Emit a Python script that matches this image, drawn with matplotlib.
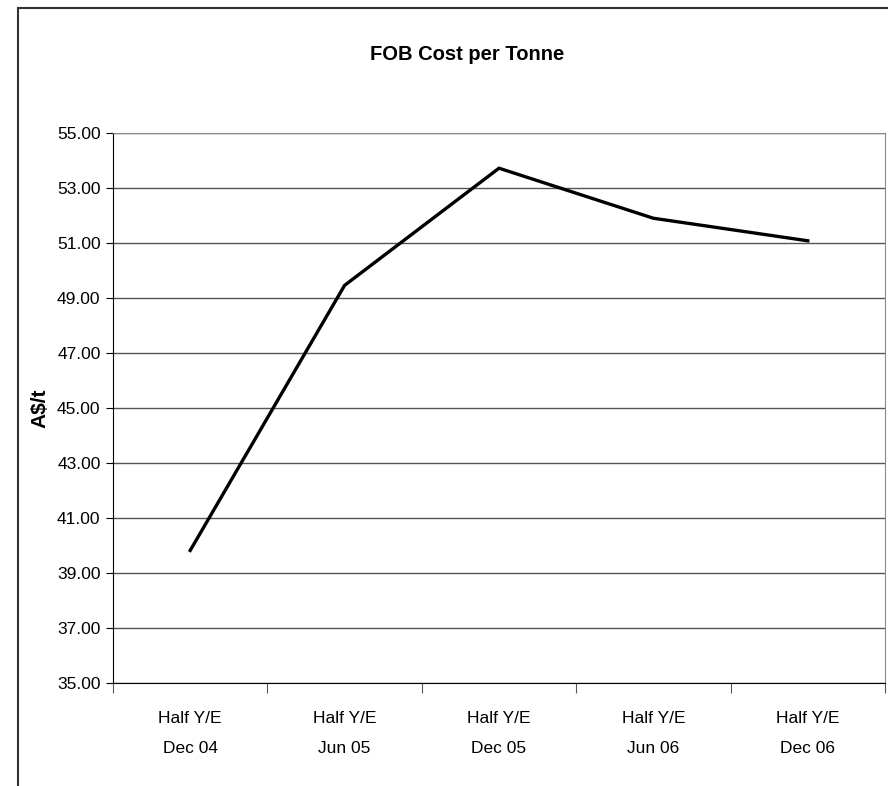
import matplotlib
matplotlib.use("Agg")
import matplotlib.pyplot as plt
from matplotlib.patches import Rectangle
import numpy as np

# Chart data
categories = ["Half Y/E\nDec 04", "Half Y/E\nJun 05", "Half Y/E\nDec 05",
              "Half Y/E\nJun 06", "Half Y/E\nDec 06"]
cost_per_tonne = [39.82, 49.46, 53.72, 51.90, 51.08]
y_ticks = [35, 37, 39, 41, 43, 45, 47, 49, 51, 53, 55]

plt.rcParams['font.family'] = ['Liberation Sans', 'DejaVu Sans']

fig = plt.figure(figsize=(8.88, 7.86), dpi=100)
W, H = 888, 786

# outer chart border (only left/top visible in the reference)
fig.patches.append(Rectangle((18 / W, -0.05), 1.2, (786 - 8) / H + 0.05,
                             transform=fig.transFigure, fill=False,
                             edgecolor="#333333", linewidth=1.5))

ax = fig.add_axes([113 / W, 1 - 683 / H, (885 - 113) / W, (683 - 133) / H])

x = np.arange(len(categories))
ax.plot(x, cost_per_tonne, color="black", linewidth=2.4, solid_joinstyle="miter")

ax.set_xlim(-0.5, len(categories) - 0.5)
ax.set_ylim(35, 55)
ax.set_yticks(y_ticks)
ax.set_yticklabels([f"{v:.2f}" for v in y_ticks], fontsize=12.5)
ax.yaxis.grid(True, color="#555555", linewidth=1)
ax.set_axisbelow(True)

# Excel-style category ticks between categories, labels centred
ax.set_xticks(np.arange(len(categories) + 1) - 0.5)
ax.set_xticklabels([])
ax.set_xticks(x, minor=True)
ax.set_xticklabels(categories, minor=True, fontsize=12.5, linespacing=2.3)
ax.tick_params(axis="x", which="minor", length=0, pad=20)
ax.tick_params(axis="x", which="major", length=7, color="#555555")
ax.tick_params(axis="y", length=5, pad=4)

for side in ["top", "right"]:
    ax.spines[side].set_color("#888888")
for side in ["left", "bottom"]:
    ax.spines[side].set_color("black")

fig.text(467 / W, 1 - 55 / H, "FOB Cost per Tonne", ha="center", va="center",
         fontsize=14.5, fontweight="bold")
fig.text(40 / W, 1 - 408 / H, "A$/t", ha="center", va="center", rotation=90,
         fontsize=15, fontweight="bold")

fig.savefig("out.png", dpi=100)
